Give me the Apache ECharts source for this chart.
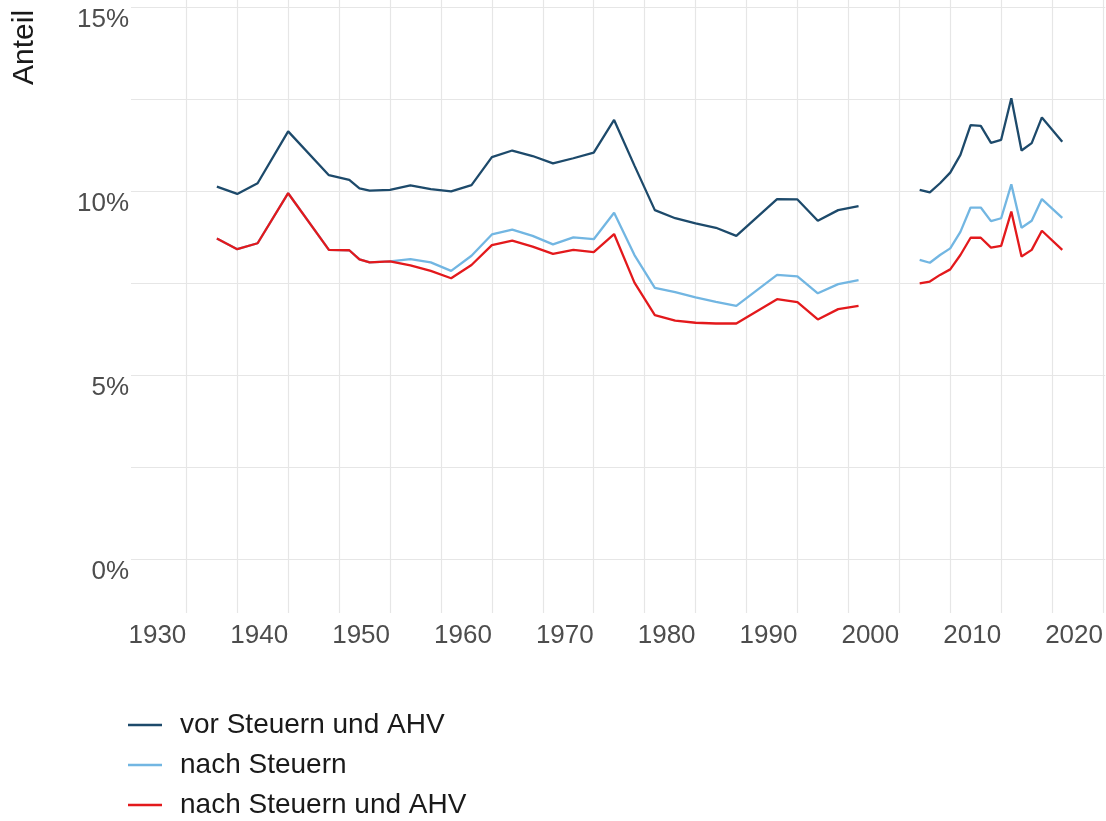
<!DOCTYPE html>
<html>
<head>
<meta charset="utf-8">
<script src="https://cdn.jsdelivr.net/npm/echarts@6/dist/echarts.min.js"></script>
<style>html,body{margin:0;padding:0;background:#fff}#c{width:1106px;height:821px}</style>
</head>
<body>
<div id="c"></div>
<script>
const years = [1933,1935,1937,1940,1944,1946,1947,1948,1950,1952,1954,1956,1958,1960,1962,1964,1966,1968,1970,1972,1974,1976,1978,1980,1982,1984,1988,1990,1992,1994,1996,2002,2003,2004,2005,2006,2007,2008,2009,2010,2011,2012,2013,2014,2016];
const vorSteuernUndAHV = [10.12,9.92,10.21,11.62,10.43,10.30,10.07,10.01,10.03,10.15,10.05,9.99,10.16,10.92,11.10,10.95,10.75,10.89,11.04,11.93,10.69,9.48,9.26,9.12,9.00,8.78,9.78,9.77,9.19,9.48,9.59,10.03,9.96,10.21,10.50,10.98,11.79,11.77,11.31,11.39,12.52,11.10,11.30,12.00,11.34];
const nachSteuern = [8.71,8.42,8.58,9.94,8.40,8.39,8.14,8.06,8.09,8.15,8.06,7.83,8.24,8.82,8.95,8.78,8.55,8.74,8.69,9.41,8.26,7.37,7.25,7.11,6.99,6.88,7.72,7.68,7.22,7.47,7.58,8.13,8.05,8.26,8.44,8.89,9.55,9.55,9.18,9.26,10.18,9.00,9.19,9.78,9.27];
const nachSteuernUndAHV = [8.71,8.42,8.58,9.94,8.40,8.39,8.14,8.06,8.09,7.98,7.83,7.63,7.99,8.53,8.65,8.49,8.29,8.40,8.34,8.83,7.51,6.63,6.48,6.42,6.40,6.40,7.06,6.98,6.51,6.79,6.88,7.49,7.54,7.72,7.87,8.26,8.73,8.73,8.46,8.51,9.44,8.22,8.40,8.92,8.40];
const seriesNames = ['vor Steuern und AHV','nach Steuern','nach Steuern und AHV'];
const colors = ['#1d4a6b','#72b6e2','#e3191c'];
const xGridYears = [1930,1935,1940,1945,1950,1955,1960,1965,1970,1975,1980,1985,1990,1995,2000,2005,2010,2015,2020];
const xLabelYears = [1930,1940,1950,1960,1970,1980,1990,2000,2010,2020];
const yGridValues = [0,2.5,5,7.5,10,12.5,15];
const yLabelValues = [0,5,10,15];

function toData(vals){
  const out = [];
  for (let i = 0; i < years.length; i++) {
    if (i > 0 && years[i] - years[i-1] > 4) out.push([(years[i]+years[i-1])/2, null]);
    out.push([years[i], vals[i]]);
  }
  return out;
}
const FONT = '"Liberation Sans", Arial, sans-serif';
const chart = echarts.init(document.getElementById('c'), null, {renderer:'canvas'});
const allVals = [vorSteuernUndAHV, nachSteuern, nachSteuernUndAHV];
chart.setOption({
  animation:false,
  backgroundColor:'#fff',
  grid:{left:131, right:0, top:0, bottom:208, containLabel:false},
  xAxis:{
    type:'value', min:1924.57, max:2020.22,
    axisLine:{show:false},
    axisTick:{show:false, customValues:xGridYears},
    splitLine:{show:true, lineStyle:{color:'#e6e6e6', width:1.2}},
    axisLabel:{customValues:xLabelYears, align:'right', margin:10, fontSize:26, color:'#4d4d4d', fontFamily:FONT, formatter:v=>String(v)}
  },
  yAxis:{
    type:'value', min:-1.467, max:15.19,
    axisLine:{show:false},
    axisTick:{show:false, customValues:yGridValues},
    splitLine:{show:true, lineStyle:{color:'#e6e6e6', width:1.2}},
    axisLabel:{customValues:yLabelValues, verticalAlign:'top', margin:2, fontSize:26, color:'#4d4d4d', fontFamily:FONT, formatter:v=>v+'%'}
  },
  legend:{
    orient:'vertical', left:128, top:711, padding:0,
    icon:'rect', symbolKeepAspect:false,
    itemWidth:34, itemHeight:2.5, itemGap:12,
    textStyle:{fontSize:28, color:'#1a1a1a', fontFamily:FONT, padding:[0,0,0,13], lineHeight:28},
    data:seriesNames
  },
  graphic:[{type:'text', x:25, y:85, rotation:Math.PI/2, style:{text:'Anteil', fontSize:30, fontFamily:FONT, fill:'#1a1a1a', textAlign:'left', textVerticalAlign:'middle'}}],
  series: seriesNames.map((n,i)=>({
    name:n, type:'line', data:toData(allVals[i]), symbol:'none', connectNulls:false,
    lineStyle:{color:colors[i], width:2.3}, itemStyle:{color:colors[i]}
  }))
});
</script>
</body>
</html>
